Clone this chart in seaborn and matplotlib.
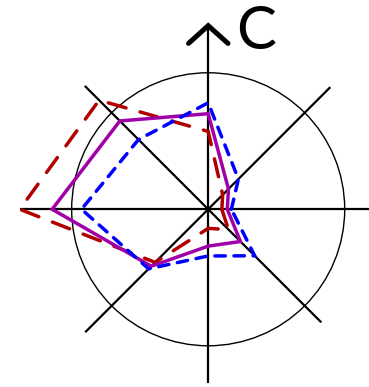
import matplotlib
matplotlib.use("Agg")
import matplotlib.pyplot as plt
from matplotlib.patches import Circle
import numpy as np
import pandas as pd
import seaborn as sns

# eixos do radar (graus), sentido anti-horário a partir do leste
angulos = [0, 45, 90, 135, 180, 225, 270, 315]

# valores (raio 1 = círculo)
serie_vermelha = [0.10, 0.15, 0.57, 1.13, 1.38, 0.55, 0.14, 0.21]
serie_roxa = [0.14, 0.21, 0.70, 0.915, 1.143, 0.59, 0.27, 0.334]
serie_azul = [0.17, 0.313, 0.78, 0.722, 0.928, 0.617, 0.342, 0.482]

nomes = ["vermelha", "roxa", "azul"]
cores = {"vermelha": "#b00000", "roxa": "#a000a8", "azul": "#0000ff"}
tracos = {"vermelha": (5.3, 4.2), "roxa": None, "azul": (3.0, 2.5)}

# comprimento de cada raio do desenho
raios_eixo = [1.40, 1.265, 1.345, 1.278, 1.38, 1.274, 1.274, 1.172]


def _poligono(valores):
    th = np.deg2rad(angulos + angulos[:1])
    r = np.asarray(valores + valores[:1])
    return r * np.cos(th), r * np.sin(th)


linhas = []
for nome, vals in zip(nomes, [serie_vermelha, serie_roxa, serie_azul]):
    x, y = _poligono(vals)
    for xi, yi in zip(x, y):
        linhas.append({"serie": nome, "x": xi, "y": yi})
df = pd.DataFrame(linhas)

sns.set_style("white")
fig = plt.figure(figsize=(3.69, 3.87), dpi=100)
ax = fig.add_axes([0, 0, 1, 1])

# raios e círculo de referência
for ang, comp in zip(angulos, raios_eixo):
    t = np.deg2rad(ang)
    ax.plot([0, comp * np.cos(t)], [0, comp * np.sin(t)], color="black",
            lw=1.6, solid_capstyle="butt", zorder=1)
ax.add_patch(Circle((0, 0), 1.0, fill=False, ec="black", lw=1.0, zorder=1))

for nome in nomes:
    sub = df[df["serie"] == nome]
    sns.lineplot(data=sub, x="x", y="y", sort=False, estimator=None,
                 color=cores[nome], linewidth=2.5, legend=False, ax=ax, zorder=3)
    ln = ax.lines[-1]
    if tracos[nome]:
        ln.set_dashes(tracos[nome])
    ln.set_dash_capstyle("round")
    ln.set_solid_joinstyle("miter")
    ln.set_dash_joinstyle("miter")

# seta do eixo C
ax.plot([-0.144, 0, 0.145], [1.215, 1.345, 1.215], color="black", lw=3.6,
        solid_capstyle="round", solid_joinstyle="miter", zorder=4)
ax.text(0.35, 1.295, "C", fontsize=43, family="Lato",
        ha="center", va="center", color="black")

ax.set_xlim(-1.525, 1.178)
ax.set_ylim(-1.302, 1.533)
ax.axis("off")

fig.savefig("out.png", dpi=100)
